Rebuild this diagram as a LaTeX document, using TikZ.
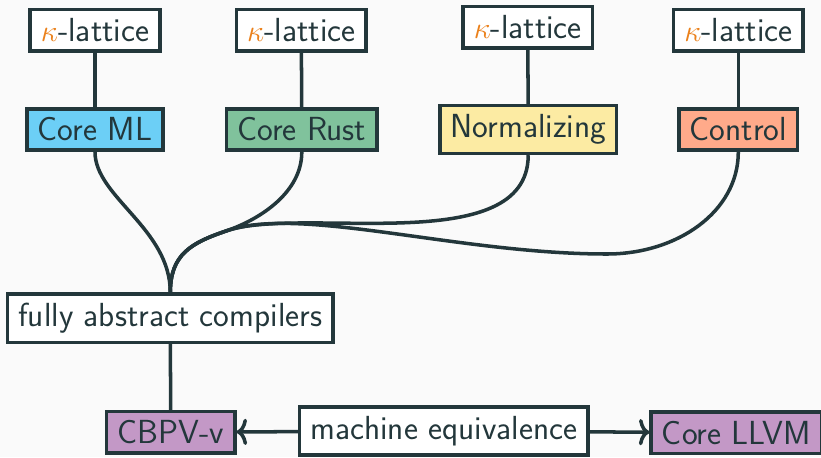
\documentclass[tikz,border=0pt]{standalone}
\usepackage{xcolor}
\usepackage{tikz}
\usetikzlibrary{arrows.meta}

\definecolor{darkteal}{HTML}{23373B}
\definecolor{bgray}{HTML}{FAFAFA}
\definecolor{kapporange}{HTML}{EB811B}
\definecolor{mlblue}{HTML}{6CCFF6}
\definecolor{rustgreen}{HTML}{80C29C}
\definecolor{normyellow}{HTML}{FCEBA3}
\definecolor{ctrlsalmon}{HTML}{FFAA8A}
\definecolor{cbpvpurple}{HTML}{C398C6}

\begin{document}
\begin{tikzpicture}[x=0.02cm, y=-0.02cm,
    font=\fontsize{19}{23}\selectfont\sffamily,
    box/.style={draw=darkteal, line width=2pt, fill=white, text=darkteal,
                inner xsep=6.1pt, inner ysep=5.1pt},
    link/.style={draw=darkteal, line width=2pt},
    equiv/.style={link, -{To[length=6pt, width=15pt]}}]
    % Canvas  (pixels, y pointing down)
    \fill[bgray] (0,0) rectangle (821,457);
    \useasboundingbox (0,0) rectangle (821,457);

    % Lattices on top
    \foreach \n/\x/\y in {k1/95/30.3, k2/301.3/30.3, k3/527.8/27.3, k4/738.3/30.3}
        \node[box] (\n) at (\x,\y) {\textcolor{kapporange}{$\kappa$}-lattice};

    % Source languages
    \node[box, fill=mlblue]     (ml)   at (95,129.5)    {Core ML};
    \node[box, fill=rustgreen]  (rust) at (301.8,129.5) {Core Rust};
    \node[box, fill=normyellow] (norm) at (528.2,129.5) {Normalizing};
    \node[box, fill=ctrlsalmon] (ctrl) at (738.3,129.5) {Control};

    \foreach \a/\b in {k1/ml, k2/rust, k3/norm, k4/ctrl}
        \draw[link] (\a) -- (\b);

    % Compilers and targets
    \node[box] (fac) at (170.3,318.3) {fully abstract compilers};
    \node[box, fill=cbpvpurple] (cbpv) at (170.7,432.2) {CBPV-v};
    \node[box] (meq) at (443.8,431) {machine equivalence};
    \node[box, fill=cbpvpurple] (llvm) at (736.3,432.7) {Core LLVM};

    % Curves into the compilers box (Rust, Normalizing, Control share a tail)
    \coordinate (cbend) at (607,254);
    \coordinate (mrg) at (226,231);
    \draw[link] (ml.south) .. controls +(0,45) and +(0,-64) .. (fac.north);
    \draw[link] (rust.south) .. controls +(0,40) and +(35,-12) .. (mrg)
        .. controls +(-35,12) and +(0,-38) .. (fac.north);
    \draw[link] (norm.south) .. controls +(0,105) and +(74,-26) .. (mrg)
        .. controls +(-35,12) and +(0,-38) .. (fac.north);
    \draw[link] (ctrl.south) .. controls +(0,60) and +(70,0) .. (cbend)
        .. controls +(-150,0) and +(74,-26) .. (mrg)
        .. controls +(-35,12) and +(0,-38) .. (fac.north);

    \draw[link] (fac) -- (cbpv);
    \draw[equiv] (meq) -- (cbpv);
    \draw[equiv] (meq) -- (llvm);
\end{tikzpicture}
\end{document}
